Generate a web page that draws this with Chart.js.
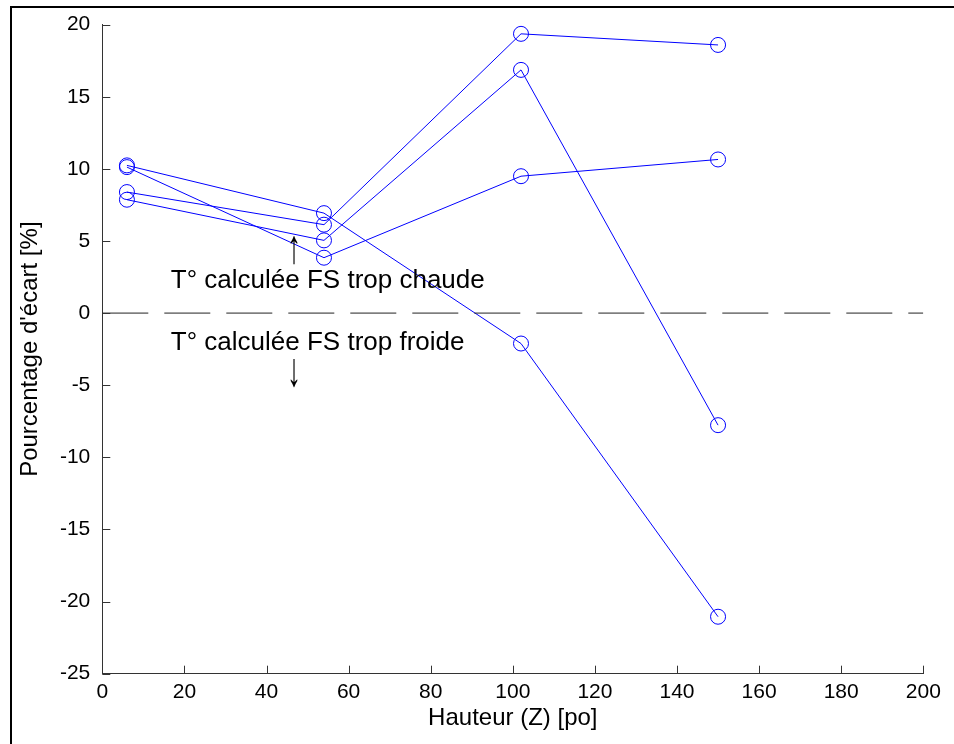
<!DOCTYPE html>
<html>
<head>
<meta charset="utf-8">
<script src="https://cdn.jsdelivr.net/npm/chart.js@4.4.1/dist/chart.umd.min.js"></script>
<style>
html, body { margin: 0; padding: 0; background: #fff; }
</style>
</head>
<body>
<canvas id="ecart-chart" width="954" height="744"></canvas>
<script>
// hauteur des capteurs [po]
var hauteurs = [6, 54, 102, 150];

// pourcentage d'écart, une série par essai
var serie1 = [10.24, 6.93, -2.11, -21.05];
var serie2 = [10.12, 3.84, 9.49, 10.65];
var serie3 = [8.39, 6.13, 19.36, 18.59];
var serie4 = [7.86, 5.04, 16.86, -7.77];

var xTicks = [0, 20, 40, 60, 80, 100, 120, 140, 160, 180, 200];
var yTicks = [-25, -20, -15, -10, -5, 0, 5, 10, 15, 20];

var police = "'Liberation Sans', Arial, Helvetica, sans-serif";

function points(values) {
    return hauteurs.map(function (h, i) {
        return { x: h, y: values[i] };
    });
}

function serie(values) {
    return {
        data: points(values),
        borderColor: "#0000ff",
        borderWidth: 1,
        pointRadius: 7.5,
        pointBorderWidth: 1,
        pointBackgroundColor: "rgba(0,0,0,0)",
        pointBorderColor: "#0000ff",
        fill: false,
        tension: 0,
    };
}

// fleche en texte, etiree verticalement
function fleche(ctx, txt, x, y) {
    ctx.save();
    ctx.translate(x, y);
    ctx.scale(1, 1.7);
    ctx.textAlign = "center";
    ctx.textBaseline = "middle";
    ctx.font = "bold 28px " + police;
    ctx.fillText(txt, 0, 0);
    ctx.restore();
}

// ticks vers l'intérieur, annotations et cadre
var habillage = {
    id: "habillage",
    afterDraw: function (chart) {
        var ctx = chart.ctx;
        var xs = chart.scales.x;
        var ys = chart.scales.y;
        var area = chart.chartArea;

        ctx.save();
        ctx.strokeStyle = "#333";
        ctx.lineWidth = 1;
        ctx.beginPath();
        xTicks.forEach(function (t) {
            var px = Math.round(xs.getPixelForValue(t)) + 0.5;
            ctx.moveTo(px, area.bottom);
            ctx.lineTo(px, area.bottom - 8);
        });
        yTicks.forEach(function (t) {
            var py = Math.round(ys.getPixelForValue(t)) + 0.5;
            ctx.moveTo(area.left, py);
            ctx.lineTo(area.left + 8, py);
        });
        ctx.stroke();

        ctx.fillStyle = "#000";
        ctx.font = "26px " + police;
        ctx.textAlign = "left";
        ctx.textBaseline = "alphabetic";
        ctx.fillText("T° calculée FS trop chaude", xs.getPixelForValue(16.7), ys.getPixelForValue(1.74));
        ctx.fillText("T° calculée FS trop froide", xs.getPixelForValue(16.7), ys.getPixelForValue(-2.58));

        fleche(ctx, "↑", xs.getPixelForValue(46.7), ys.getPixelForValue(4.35));
        fleche(ctx, "↓", xs.getPixelForValue(46.7), ys.getPixelForValue(-4.13));

        ctx.strokeStyle = "#000";
        ctx.lineWidth = 2;
        ctx.beginPath();
        ctx.moveTo(11, 744);
        ctx.lineTo(11, 7);
        ctx.lineTo(954, 7);
        ctx.stroke();
        ctx.restore();
    },
};

var ecartChart = new Chart(document.getElementById("ecart-chart"), {
    type: "line",
    data: {
        datasets: [
            {
                data: [
                    { x: xTicks[0], y: 0 },
                    { x: xTicks[xTicks.length - 1], y: 0 },
                ],
                borderColor: "#222",
                borderWidth: 1,
                borderDash: [46, 16],
                pointRadius: 0,
                fill: false,
            },
            serie(serie1),
            serie(serie2),
            serie(serie3),
            serie(serie4),
        ],
    },
    options: {
        responsive: false,
        animation: false,
        layout: {
            padding: { left: 0, top: 24, right: 30.7, bottom: 0 },
        },
        plugins: {
            legend: { display: false },
            tooltip: { enabled: false },
        },
        scales: {
            x: {
                type: "linear",
                min: 0,
                max: 200,
                afterFit: function (scale) {
                    scale.height = 70.3;
                },
                afterBuildTicks: function (scale) {
                    scale.ticks = xTicks.map(function (v) { return { value: v }; });
                },
                grid: { display: false, drawTicks: false },
                border: { display: true, color: "#333", width: 1 },
                ticks: {
                    color: "#000",
                    padding: 6,
                    maxRotation: 0,
                    font: { size: 21, family: police },
                },
                title: {
                    display: true,
                    text: "Hauteur (Z) [po]",
                    color: "#000",
                    padding: { top: 0, bottom: 11 },
                    font: { size: 24, family: police },
                },
            },
            y: {
                type: "linear",
                min: -25,
                max: 20,
                afterFit: function (scale) {
                    scale.width = 102.3;
                },
                afterBuildTicks: function (scale) {
                    scale.ticks = yTicks.map(function (v) { return { value: v }; });
                },
                grid: { display: false, drawTicks: false },
                border: { display: true, color: "#333", width: 1 },
                ticks: {
                    color: "#000",
                    padding: 12,
                    font: { size: 21, family: police },
                },
                title: {
                    display: true,
                    text: "Pourcentage d'écart [%]",
                    color: "#000",
                    padding: { top: 16, bottom: 0 },
                    font: { size: 24, family: police },
                },
            },
        },
    },
    plugins: [habillage],
});
</script>
</body>
</html>
